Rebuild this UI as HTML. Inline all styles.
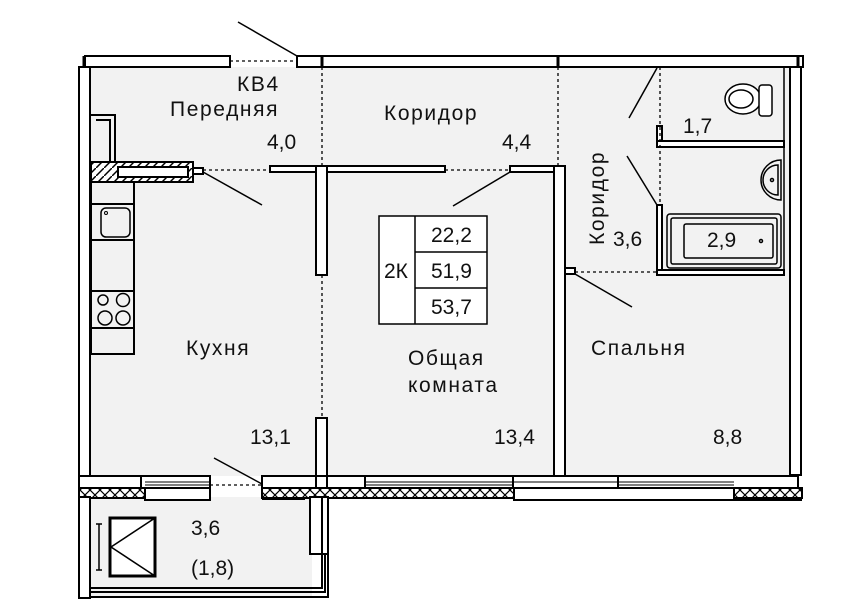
<!DOCTYPE html>
<html><head><meta charset="utf-8"><style>
html,body{margin:0;padding:0;background:#fff;}
svg{display:block;}
text{font-family:"Liberation Sans",sans-serif;fill:#111;}
.w{font-size:21px;letter-spacing:1.6px;}
</style></head><body>
<svg width="853" height="606" viewBox="0 0 853 606" xmlns="http://www.w3.org/2000/svg">
<defs>
<pattern id="hx" width="10" height="10" patternUnits="userSpaceOnUse">
<rect width="10" height="10" fill="#fff"/>
<path d="M0 0L10 10M10 0L0 10" stroke="#000" stroke-width="1.2"/>
</pattern>
<pattern id="dh" width="8" height="8" patternUnits="userSpaceOnUse">
<rect width="8" height="8" fill="#fff"/>
<path d="M0 8L8 0" stroke="#000" stroke-width="1.5"/>
</pattern>
</defs>
<rect x="90" y="67" width="700" height="409" fill="#f2f2f2"/>
<rect x="90" y="497" width="222" height="100" fill="#f2f2f2"/>

<g stroke="#000" stroke-width="2" fill="#fff">
<rect x="85" y="56" width="145" height="11"/>
<rect x="297" y="56" width="506" height="11"/>
<line x1="230" y1="61" x2="297" y2="61" stroke-dasharray="3,3" stroke-width="1.3"/>
<rect x="79" y="67" width="11" height="409"/>
<rect x="790" y="67" width="11" height="408"/>
<line x1="784" y1="67" x2="784" y2="270" stroke-width="1.5"/>
</g>
<g stroke="#000" stroke-width="3"><line x1="322" y1="56" x2="322" y2="67"/><line x1="558" y1="56" x2="558" y2="67"/><line x1="84" y1="56" x2="84" y2="67"/><line x1="798" y1="56" x2="798" y2="67"/></g>

<g stroke="#000" stroke-width="2" fill="#fff">
<rect x="270" y="166" width="175" height="6"/>
<rect x="510" y="166" width="46" height="6"/>
<rect x="316" y="166" width="11" height="109"/>
<rect x="316" y="418" width="11" height="58"/>
<rect x="554" y="166" width="11" height="310"/>
<rect x="657" y="126" width="5" height="20"/>
<rect x="657" y="141" width="127" height="6"/>
<rect x="657" y="205" width="5" height="70"/>
<rect x="657" y="270" width="127" height="5"/>
<rect x="565" y="268" width="10" height="6"/>
</g>
<g stroke="#000" stroke-width="1.3" stroke-dasharray="3,3" fill="none">
<line x1="322" y1="67" x2="322" y2="166"/>
<line x1="322" y1="275" x2="322" y2="418"/>
<line x1="558" y1="67" x2="558" y2="166"/>
<line x1="203" y1="170" x2="270" y2="170"/>
<line x1="445" y1="170" x2="510" y2="170"/>
<line x1="660" y1="67" x2="660" y2="205"/>
<line x1="575" y1="272" x2="657" y2="272"/>
<line x1="210" y1="485" x2="262" y2="485"/>
</g>
<g stroke="#000" stroke-width="1.5">
<line x1="238" y1="22" x2="297" y2="56"/>
<line x1="203" y1="172" x2="262" y2="205"/>
<line x1="510" y1="172" x2="453" y2="206"/>
<line x1="657" y1="68" x2="629" y2="118"/>
<line x1="657" y1="205" x2="627" y2="156"/>
<line x1="575" y1="274" x2="632" y2="307"/>
<line x1="214" y1="458" x2="262" y2="484"/>
</g>

<g stroke="#000" stroke-width="2" fill="none">
<path d="M91 115 H115 V162 M96 120 H110 V162"/>
<rect x="91" y="162" width="102" height="20" fill="url(#dh)"/>
<rect x="118" y="167" width="70" height="10" fill="#fff"/>
<rect x="193" y="168" width="10" height="6" fill="#fff"/>
<rect x="91" y="182" width="43" height="172" fill="#f2f2f2"/>
<line x1="91" y1="204" x2="134" y2="204"/>
<line x1="91" y1="240" x2="134" y2="240"/>
<line x1="91" y1="291" x2="134" y2="291"/>
<line x1="91" y1="328" x2="134" y2="328"/>
<rect x="101" y="208" width="29" height="29" rx="5" stroke-width="1.5"/>
<circle cx="106" cy="213" r="1.5" stroke-width="1"/>
<circle cx="103" cy="300" r="5" stroke-width="1.5"/>
<circle cx="123" cy="300" r="6.5" stroke-width="1.5"/>
<circle cx="105" cy="318" r="7" stroke-width="1.5"/>
<circle cx="123" cy="318" r="7" stroke-width="1.5"/>
</g>

<g stroke="#000" stroke-width="1.5" fill="#fff">
<ellipse cx="743" cy="99" rx="18" ry="15"/>
<ellipse cx="741" cy="99" rx="12" ry="9" fill="none"/>
<rect x="759" y="85" width="13" height="31" rx="3"/>
<path d="M781 160 A20 20 0 1 0 781 200 Z" fill="#f2f2f2"/>
<path d="M778 165 A15 15 0 1 0 778 195 Z" fill="none"/>
<circle cx="772" cy="180" r="1.5"/>
<rect x="667" y="214" width="114" height="54" rx="3" fill="#f2f2f2"/>
<rect x="671" y="218" width="106" height="46" rx="2" fill="none"/>
<rect x="684" y="224" width="89" height="34" rx="2" fill="none"/>
<circle cx="761" cy="241" r="1.5"/>
</g>

<g stroke="#000" stroke-width="2">
<rect x="79" y="476" width="62" height="12" fill="#fff"/>
<rect x="141" y="476" width="69" height="12" fill="#fff"/>
<rect x="262" y="476" width="54" height="12" fill="#fff"/>
<rect x="316" y="476" width="11" height="12" fill="#fff"/>
<rect x="327" y="476" width="38" height="12" fill="#fff"/>
<rect x="365" y="476" width="148" height="12" fill="#fff"/>
<rect x="513" y="476" width="105" height="12" fill="#fff"/>
<rect x="618" y="476" width="180" height="12" fill="#fff"/>
<rect x="79" y="488" width="66" height="10" fill="url(#hx)"/>
<rect x="262" y="488" width="252" height="10" fill="url(#hx)"/>
<rect x="734" y="488" width="68" height="10" fill="url(#hx)"/>
<rect x="145" y="488" width="65" height="12" fill="#fff"/>
<rect x="514" y="488" width="220" height="12" fill="#fff"/>
<line x1="262" y1="499" x2="305" y2="499"/>
<line x1="734" y1="500" x2="802" y2="500"/>
</g>
<g stroke="#000" stroke-width="1" fill="none">
<line x1="145" y1="482" x2="210" y2="482"/><line x1="145" y1="485" x2="210" y2="485"/>
<line x1="365" y1="482" x2="513" y2="482"/><line x1="365" y1="485" x2="513" y2="485"/>
<line x1="618" y1="482" x2="734" y2="482"/><line x1="618" y1="485" x2="734" y2="485"/>
<line x1="513" y1="482" x2="618" y2="482"/>
</g>
<g stroke="#000" stroke-width="2" fill="#fff">
<rect x="79" y="497" width="11" height="101"/>
<rect x="310" y="497" width="12" height="57"/>
<rect x="322" y="497" width="6" height="57"/>
<path d="M90 588 H322 V554 M90 592 H325 V554 M90 597 H328 V554" fill="none"/>
<rect x="110" y="518" width="45" height="58" stroke-width="3" fill="#fff"/>
<path d="M155 518 L111 547 L155 576" fill="none" stroke-width="1.5"/>
<path d="M96 524 H102 M99 524 V570 M96 570 H102" fill="none" stroke-width="1.5"/>
</g>

<g stroke="#000" stroke-width="1.5" fill="#fff">
<rect x="379" y="216" width="108" height="108"/>
<line x1="415" y1="216" x2="415" y2="324"/>
<line x1="415" y1="252" x2="487" y2="252"/>
<line x1="415" y1="288" x2="487" y2="288"/>
</g>

<g font-size="21">
<text class="w" x="237" y="91">КВ4</text>
<text class="w" x="170" y="116">Передняя</text>
<text x="267" y="149">4,0</text>
<text class="w" x="384" y="120">Коридор</text>
<text x="502" y="149">4,4</text>
<text x="431" y="242">22,2</text>
<text x="431" y="278">51,9</text>
<text x="431" y="314">53,7</text>
<text x="384" y="278">2К</text>
<text x="683" y="133">1,7</text>
<text x="707" y="247">2,9</text>
<text x="613" y="246">3,6</text>
<text class="w" transform="translate(604,245) rotate(-90)">Коридор</text>
<text class="w" x="186" y="355">Кухня</text>
<text class="w" x="408" y="365">Общая</text>
<text class="w" x="408" y="392">комната</text>
<text class="w" x="591" y="355">Спальня</text>
<text x="250" y="444">13,1</text>
<text x="494" y="444">13,4</text>
<text x="713" y="444">8,8</text>
<text x="191" y="535">3,6</text>
<text x="191" y="575">(1,8)</text>
</g>
</svg>
</body></html>
